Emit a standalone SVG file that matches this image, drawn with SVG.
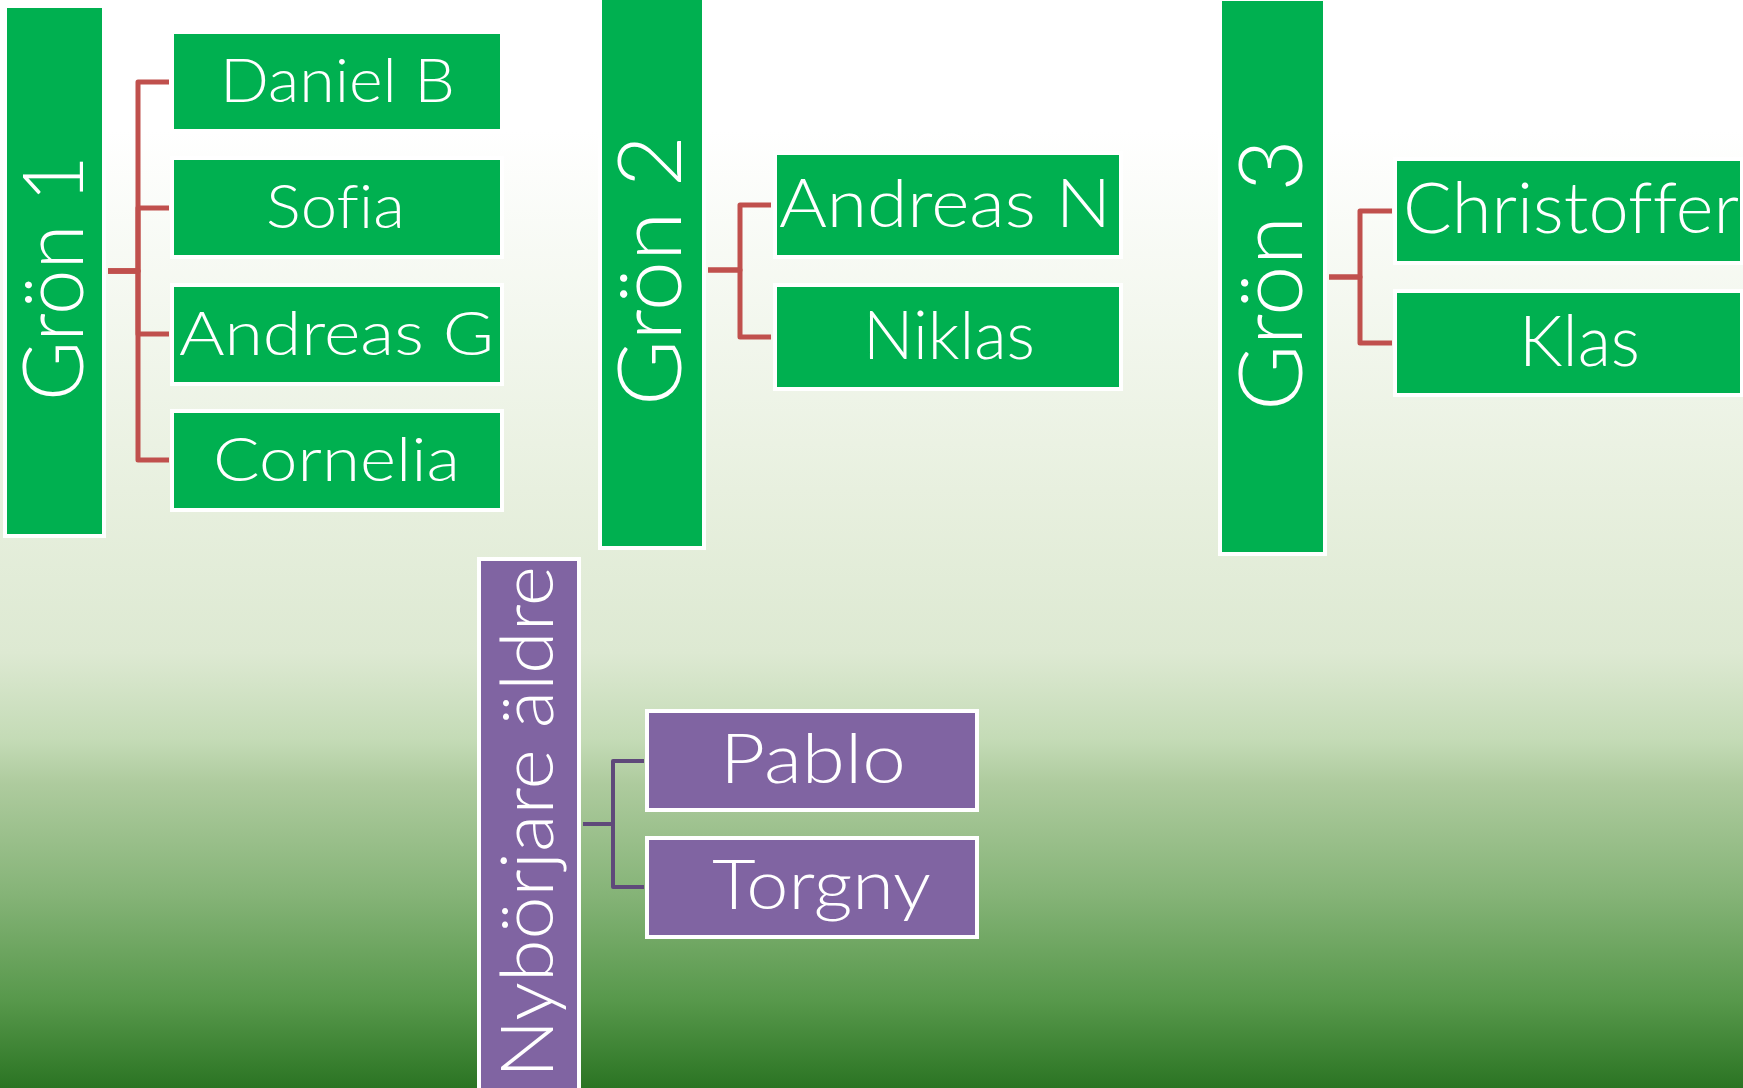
<svg xmlns="http://www.w3.org/2000/svg" width="1743" height="1088" viewBox="0 0 1743 1088">
<defs>
<linearGradient id="bg" x1="0" y1="0" x2="0" y2="1">
<stop offset="0" stop-color="#ffffff"/>
<stop offset="0.12" stop-color="#ffffff"/>
<stop offset="0.45" stop-color="#e8f0df"/>
<stop offset="0.6" stop-color="#dde9d2"/>
<stop offset="0.68" stop-color="#c4dbb6"/>
<stop offset="0.72" stop-color="#aecb9e"/>
<stop offset="0.82" stop-color="#86b478"/>
<stop offset="0.92" stop-color="#57984b"/>
<stop offset="1" stop-color="#2b7423"/>
</linearGradient>
<style>
.g{fill:#00b050;stroke:#ffffff;stroke-width:4}
.p{fill:#8064a2;stroke:#ffffff;stroke-width:4}
.t{fill:#ffffff;font-family:"Century Gothic","Lato","DejaVu Sans",sans-serif;font-weight:300;font-variant-ligatures:none;font-feature-settings:"liga" 0}
.cr{fill:none;stroke:#c0504d;stroke-width:5;stroke-linejoin:round}
.cp{fill:none;stroke:#5f497a;stroke-width:4;stroke-linejoin:round}
</style>
</defs>
<rect x="0" y="0" width="1743" height="1088" fill="url(#bg)"/>
<g id="connectors">
<path class="cr" d="M108 271H138V82H169"/>
<path class="cr" d="M108 271H138V208H169"/>
<path class="cr" d="M108 271H138V334H169"/>
<path class="cr" d="M108 271H138V460H169"/>
<path class="cr" d="M708 270H740V205H771"/>
<path class="cr" d="M708 270H740V337H771"/>
<path class="cr" d="M1329 277H1360V211H1392"/>
<path class="cr" d="M1329 277H1360V343H1392"/>
<path class="cp" d="M583 824H613V761H644"/>
<path class="cp" d="M583 824H613V887H644"/>
</g>
<g id="gron1">
<rect class="g" x="5" y="6" width="99" height="530"/>
<text class="t" font-size="85" transform="translate(83,401) rotate(-90)" textLength="246" lengthAdjust="spacingAndGlyphs">Grön 1</text>
</g>
<g id="danielb">
<rect class="g" x="172" y="32" width="330" height="99"/>
<text class="t" x="220" y="102" font-size="61" textLength="235" lengthAdjust="spacingAndGlyphs">Daniel B</text>
</g>
<g id="sofia">
<rect class="g" x="172" y="158" width="330" height="99"/>
<text class="t" x="266" y="228" font-size="61" textLength="139" lengthAdjust="spacingAndGlyphs">Sofia</text>
</g>
<g id="andreasg">
<rect class="g" x="172" y="285" width="330" height="99"/>
<text class="t" x="179" y="355" font-size="61" textLength="315" lengthAdjust="spacingAndGlyphs">Andreas G</text>
</g>
<g id="cornelia">
<rect class="g" x="172" y="411" width="330" height="99"/>
<text class="t" x="213" y="481" font-size="61" textLength="247" lengthAdjust="spacingAndGlyphs">Cornelia</text>
</g>
<g id="gron2">
<rect class="g" x="600" y="-6" width="104" height="554"/>
<text class="t" font-size="89" transform="translate(681,406) rotate(-90)" textLength="271" lengthAdjust="spacingAndGlyphs">Grön 2</text>
</g>
<g id="andreasn">
<rect class="g" x="775" y="153" width="346" height="104"/>
<text class="t" x="779" y="227" font-size="67" textLength="332" lengthAdjust="spacingAndGlyphs">Andreas N</text>
</g>
<g id="niklas">
<rect class="g" x="775" y="285" width="346" height="104"/>
<text class="t" x="863" y="359" font-size="67" textLength="172" lengthAdjust="spacingAndGlyphs">Niklas</text>
</g>
<g id="gron3">
<rect class="g" x="1220" y="-1" width="105" height="555"/>
<text class="t" font-size="89" transform="translate(1302,411) rotate(-90)" textLength="272" lengthAdjust="spacingAndGlyphs">Grön 3</text>
</g>
<g id="christoffer">
<rect class="g" x="1395" y="159" width="347" height="104"/>
<text class="t" x="1403" y="233" font-size="70" textLength="336" lengthAdjust="spacingAndGlyphs">Christoffer</text>
</g>
<g id="klas">
<rect class="g" x="1395" y="291" width="347" height="104"/>
<text class="t" x="1519" y="366" font-size="70" textLength="121" lengthAdjust="spacingAndGlyphs">Klas</text>
</g>
<g id="nyborjare">
<rect class="p" x="479" y="559" width="100" height="545"/>
<text class="t" font-size="72" transform="translate(553,1078) rotate(-90)" textLength="512" lengthAdjust="spacingAndGlyphs">Nybörjare äldre</text>
</g>
<g id="pablo">
<rect class="p" x="647" y="711" width="330" height="99"/>
<text class="t" x="720" y="783" font-size="68" textLength="186" lengthAdjust="spacingAndGlyphs">Pablo</text>
</g>
<g id="torgny">
<rect class="p" x="647" y="838" width="330" height="99"/>
<text class="t" x="712" y="909" font-size="68" textLength="219" lengthAdjust="spacingAndGlyphs">Torgny</text>
</g>
</svg>
